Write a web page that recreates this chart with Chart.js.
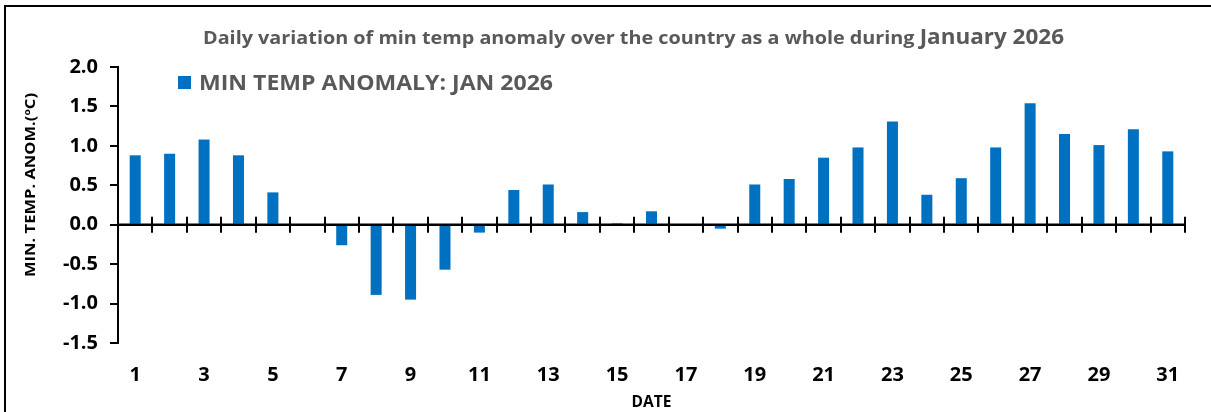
<!DOCTYPE html>
<html>
<head>
<meta charset="utf-8">
<script src="https://cdn.jsdelivr.net/npm/chart.js@4"></script>
<style>
  html, body { margin: 0; padding: 0; background: #fff; }
  #wrap { position: relative; width: 1211px; height: 412px; }
</style>
</head>
<body>
<div id="wrap"><canvas id="anomChart" width="1211" height="412"></canvas></div>
<script>
// days of January 2026
const dias = ['1','2','3','4','5','6','7','8','9','10','11','12','13','14','15','16',
              '17','18','19','20','21','22','23','24','25','26','27','28','29','30','31'];
// min temp anomaly (degC)
const anomalia = [0.88, 0.90, 1.08, 0.88, 0.41, 0.00, -0.26, -0.89, -0.95, -0.57, -0.10, 0.44,
                  0.51, 0.16, 0.02, 0.17, 0.00, -0.05, 0.51, 0.58, 0.85, 0.98, 1.31, 0.38,
                  0.59, 0.98, 1.54, 1.15, 1.01, 1.21, 0.93];
const yTicks = [-1.5, -1.0, -0.5, 0.0, 0.5, 1.0, 1.5, 2.0];

const tituloA = 'Daily variation of min temp anomaly over the country as a whole during ';
const tituloB = 'January 2026';
const leyenda = 'MIN TEMP ANOMALY: JAN 2026';
const tituloY = 'MIN. TEMP. ANOM.(\u00BAC)';
const tituloX = 'DATE';

const FUENTE = '"Open Sans", Lato, sans-serif';
const AZUL = '#0070C0';
const GRIS = '#595959';

// escribe un texto estirado en horizontal hasta el ancho pedido
function textoAjustado(ctx, partes, x, y, ancho) {
    let total = 0;
    partes.forEach(p => { ctx.font = p.font; total += ctx.measureText(p.text).width; });
    const sx = ancho / total;
    ctx.save();
    ctx.translate(x, y);
    ctx.scale(sx, 1);
    let cx = 0;
    partes.forEach(p => {
        ctx.font = p.font;
        ctx.fillText(p.text, cx, 0);
        cx += ctx.measureText(p.text).width;
    });
    ctx.restore();
}

// marco, titulo, leyenda, titulo del eje y, linea del cero con sus marcas
const extras = {
    id: 'extras',
    beforeDraw(chart) {
        const ctx = chart.ctx;
        ctx.save();
        ctx.fillStyle = '#fff';
        ctx.fillRect(0, 0, chart.width, chart.height);
        ctx.strokeStyle = '#000';
        ctx.lineWidth = 2;
        ctx.beginPath();
        ctx.moveTo(5, chart.height);
        ctx.lineTo(5, 6);
        ctx.lineTo(chart.width, 6);
        ctx.stroke();
        ctx.restore();
    },
    afterDatasetsDraw(chart) {
        const ctx = chart.ctx;
        const x = chart.scales.x;
        const y = chart.scales.y;
        const y0 = y.getPixelForValue(0);
        ctx.save();
        ctx.strokeStyle = '#000';
        ctx.lineWidth = 2.5;
        ctx.beginPath();
        ctx.moveTo(x.left, y0);
        ctx.lineTo(x.right, y0);
        ctx.stroke();
        ctx.lineWidth = 2;
        const paso = (x.right - x.left) / dias.length;
        ctx.beginPath();
        for (let i = 1; i <= dias.length; i++) {
            const px = Math.round(x.left + i * paso);
            ctx.moveTo(px, y0 - 8);
            ctx.lineTo(px, y0 + 8);
        }
        ctx.stroke();
        ctx.restore();
    },
    afterDraw(chart) {
        const ctx = chart.ctx;
        ctx.save();
        ctx.fillStyle = GRIS;
        ctx.textBaseline = 'alphabetic';
        ctx.textAlign = 'left';
        // titulo
        textoAjustado(ctx, [
            { text: tituloA, font: 'bold 18.5px ' + FUENTE },
            { text: tituloB, font: 'bold 21px ' + FUENTE }
        ], 203, 44, 861);
        // leyenda
        ctx.fillStyle = AZUL;
        ctx.fillRect(178, 76, 13, 13);
        ctx.fillStyle = GRIS;
        textoAjustado(ctx, [{ text: leyenda, font: 'bold 21px ' + FUENTE }], 199, 90, 354);
        // titulo eje y
        ctx.translate(35, 185);
        ctx.rotate(-Math.PI / 2);
        ctx.fillStyle = '#000';
        textoAjustado(ctx, [{ text: tituloY, font: 'bold 13.5px ' + FUENTE }], -92, 0, 184);
        ctx.restore();
    }
};

const ctx = document.getElementById('anomChart').getContext('2d');
const chart = new Chart(ctx, {
    type: 'bar',
    data: {
        labels: dias,
        datasets: [{
            label: leyenda,
            data: anomalia,
            backgroundColor: AZUL,
            borderWidth: 0,
            barPercentage: 0.32,
            categoryPercentage: 1.0
        }]
    },
    options: {
        responsive: false,
        animation: false,
        events: [],
        layout: { padding: { left: 58, right: 26, top: 67, bottom: 0 } },
        plugins: {
            legend: { display: false },
            title: { display: false },
            tooltip: { enabled: false }
        },
        scales: {
            x: {
                grid: { display: false, drawTicks: false },
                border: { display: false },
                ticks: {
                    autoSkip: false,
                    maxRotation: 0,
                    padding: 20,
                    color: '#000',
                    font: { family: FUENTE, size: 20, weight: 'bold' },
                    callback: function (val, i) { return i % 2 === 0 ? dias[i] : ''; }
                },
                title: {
                    display: true,
                    text: tituloX,
                    color: '#000',
                    font: { family: FUENTE, size: 15.5, weight: 'bold' },
                    padding: { top: 0, bottom: 0 }
                },
                afterFit: function (s) { s.height = 69; }
            },
            y: {
                min: -1.5,
                max: 2.0,
                afterBuildTicks: function (s) { s.ticks = yTicks.map(v => ({ value: v })); },
                grid: {
                    drawOnChartArea: false,
                    drawTicks: true,
                    tickLength: 8,
                    color: '#000',
                    lineWidth: 2
                },
                border: { display: true, color: '#000', width: 2 },
                ticks: {
                    padding: 12,
                    color: '#000',
                    font: { family: FUENTE, size: 20, weight: 'bold' },
                    callback: function (v) { return Number(v).toFixed(1); }
                },
                afterFit: function (s) { s.width = 60; }
            }
        }
    },
    plugins: [extras]
});
</script>
</body>
</html>
